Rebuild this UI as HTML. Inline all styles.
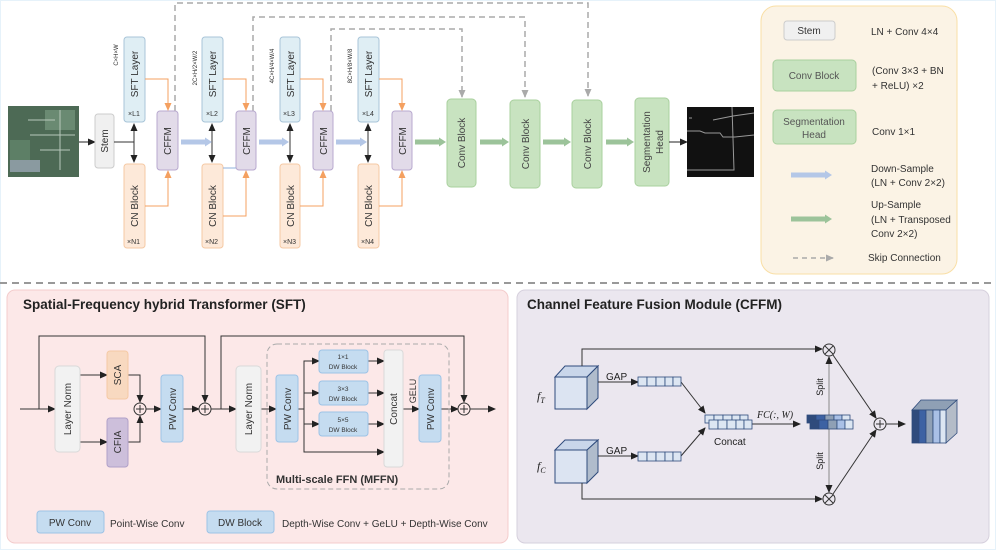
<!DOCTYPE html>
<html><head><meta charset="utf-8"><style>
html,body{margin:0;padding:0;background:#fff;}
svg{display:block;font-family:"Liberation Sans","DejaVu Sans",sans-serif;}
</style></head><body>
<svg width="996" height="550" viewBox="0 0 996 550" xmlns="http://www.w3.org/2000/svg">
<defs>
<marker id="ak" markerWidth="8" markerHeight="8" refX="7" refY="4" orient="auto" markerUnits="userSpaceOnUse"><path d="M0,0.5 L8,4 L0,7.5z" fill="#222"/></marker>
<marker id="aks" markerWidth="8" markerHeight="8" refX="1" refY="4" orient="auto" markerUnits="userSpaceOnUse"><path d="M8,0.5 L0,4 L8,7.5z" fill="#222"/></marker>
<marker id="ao" markerWidth="8" markerHeight="8" refX="7" refY="4" orient="auto" markerUnits="userSpaceOnUse"><path d="M0,0.5 L8,4 L0,7.5z" fill="#f4a060"/></marker>
<marker id="ag" markerWidth="8" markerHeight="8" refX="7" refY="4" orient="auto" markerUnits="userSpaceOnUse"><path d="M0,0.5 L8,4 L0,7.5z" fill="#aaa"/></marker>
<marker id="ab" markerWidth="8" markerHeight="10" refX="1" refY="5" orient="auto" markerUnits="userSpaceOnUse"><path d="M0,0.5 L7,5 L0,9.5z" fill="#b4c7e7"/></marker>
<marker id="agr" markerWidth="8" markerHeight="10" refX="1" refY="5" orient="auto" markerUnits="userSpaceOnUse"><path d="M0,0.5 L7,5 L0,9.5z" fill="#9cc39a"/></marker>
</defs>
<rect x="0.5" y="0.5" width="995" height="549" fill="#fff" stroke="#e6f2fa"/>

<g fill="none" stroke="#aaa" stroke-width="1.5" stroke-dasharray="6,4">
<path d="M175,111 V3 H588 V96" marker-end="url(#ag)"/>
<path d="M253,111 V17 H525 V97" marker-end="url(#ag)"/>
<path d="M331,111 V29 H462 V97" marker-end="url(#ag)"/>
</g>

<rect x="8" y="106" width="71" height="71" fill="#4d6a55"/>
<rect x="10" y="140" width="20" height="30" fill="#5d7f66"/>
<rect x="45" y="110" width="30" height="20" fill="#6a8a72"/>
<rect x="10" y="160" width="30" height="12" fill="#8a9aa0"/>
<path d="M28,120 H55 M30,135 H75 M60,110 V170 M40,150 H70" stroke="#b8c8bb" stroke-width="1"/>
<line x1="79" y1="142" x2="95" y2="142" stroke="#222" marker-end="url(#ak)"/>
<rect x="95" y="114" width="19" height="54" rx="3" fill="#f0f0f0" stroke="#ccc"/>
<text transform="translate(108,141) rotate(-90)" text-anchor="middle" font-size="10" fill="#333">Stem</text>
<line x1="114" y1="142" x2="134" y2="142" stroke="#333"/>

<g font-size="10" fill="#333">
<g>
<rect x="124" y="37" width="21" height="85" rx="3" fill="#dfeef4" stroke="#a8c4d8"/>
<text transform="translate(138,74) rotate(-90)" text-anchor="middle">SFT Layer</text>
<text x="128" y="116" font-size="7">×L1</text>
<rect x="124" y="164" width="21" height="84" rx="3" fill="#fde9d9" stroke="#f5c9a4"/>
<text transform="translate(138,206) rotate(-90)" text-anchor="middle">CN Block</text>
<text x="127" y="244" font-size="7">×N1</text>
<rect x="157" y="111" width="21" height="59" rx="3" fill="#e2dbe9" stroke="#b8a9cf"/>
<text transform="translate(171,141) rotate(-90)" text-anchor="middle">CFFM</text>
<line x1="134" y1="124" x2="134" y2="162" stroke="#333" marker-start="url(#aks)" marker-end="url(#ak)"/>
<path d="M145,79 H168 V110" fill="none" stroke="#f4a060" marker-end="url(#ao)"/>
<path d="M145,206 H168 V171" fill="none" stroke="#f4a060" marker-end="url(#ao)"/>
<text transform="translate(118,55) rotate(-90)" text-anchor="middle" font-size="6">C×H×W</text>
</g>
<g>
<rect x="202" y="37" width="21" height="85" rx="3" fill="#dfeef4" stroke="#a8c4d8"/>
<text transform="translate(216,74) rotate(-90)" text-anchor="middle">SFT Layer</text>
<text x="206" y="116" font-size="7">×L2</text>
<rect x="202" y="164" width="21" height="84" rx="3" fill="#fde9d9" stroke="#f5c9a4"/>
<text transform="translate(216,206) rotate(-90)" text-anchor="middle">CN Block</text>
<text x="205" y="244" font-size="7">×N2</text>
<rect x="236" y="111" width="20" height="59" rx="3" fill="#e2dbe9" stroke="#b8a9cf"/>
<text transform="translate(250,141) rotate(-90)" text-anchor="middle">CFFM</text>
<line x1="212" y1="124" x2="212" y2="162" stroke="#333" marker-start="url(#aks)" marker-end="url(#ak)"/>
<path d="M223,79 H246 V110" fill="none" stroke="#f4a060" marker-end="url(#ao)"/>
<path d="M223,216 H246 V171" fill="none" stroke="#f4a060" marker-end="url(#ao)"/>
<line x1="223" y1="168" x2="236" y2="168" stroke="#8fb0dd"/>
<text transform="translate(197,68) rotate(-90)" text-anchor="middle" font-size="6">2C×H/2×W/2</text>
</g>
<g>
<rect x="280" y="37" width="20" height="85" rx="3" fill="#dfeef4" stroke="#a8c4d8"/>
<text transform="translate(294,74) rotate(-90)" text-anchor="middle">SFT Layer</text>
<text x="283" y="116" font-size="7">×L3</text>
<rect x="280" y="164" width="20" height="84" rx="3" fill="#fde9d9" stroke="#f5c9a4"/>
<text transform="translate(294,206) rotate(-90)" text-anchor="middle">CN Block</text>
<text x="283" y="244" font-size="7">×N3</text>
<rect x="313" y="111" width="20" height="59" rx="3" fill="#e2dbe9" stroke="#b8a9cf"/>
<text transform="translate(327,141) rotate(-90)" text-anchor="middle">CFFM</text>
<line x1="290" y1="124" x2="290" y2="162" stroke="#333" marker-start="url(#aks)" marker-end="url(#ak)"/>
<path d="M300,79 H323 V110" fill="none" stroke="#f4a060" marker-end="url(#ao)"/>
<path d="M300,206 H323 V171" fill="none" stroke="#f4a060" marker-end="url(#ao)"/>
<text transform="translate(274,66) rotate(-90)" text-anchor="middle" font-size="6">4C×H/4×W/4</text>
</g>
<g>
<rect x="358" y="37" width="21" height="85" rx="3" fill="#dfeef4" stroke="#a8c4d8"/>
<text transform="translate(372,74) rotate(-90)" text-anchor="middle">SFT Layer</text>
<text x="362" y="116" font-size="7">×L4</text>
<rect x="358" y="164" width="21" height="84" rx="3" fill="#fde9d9" stroke="#f5c9a4"/>
<text transform="translate(372,206) rotate(-90)" text-anchor="middle">CN Block</text>
<text x="361" y="244" font-size="7">×N4</text>
<rect x="392" y="111" width="20" height="59" rx="3" fill="#e2dbe9" stroke="#b8a9cf"/>
<text transform="translate(406,141) rotate(-90)" text-anchor="middle">CFFM</text>
<line x1="368" y1="124" x2="368" y2="162" stroke="#333" marker-start="url(#aks)" marker-end="url(#ak)"/>
<path d="M379,79 H402 V110" fill="none" stroke="#f4a060" marker-end="url(#ao)"/>
<path d="M379,206 H402 V171" fill="none" stroke="#f4a060" marker-end="url(#ao)"/>
<text transform="translate(352,66) rotate(-90)" text-anchor="middle" font-size="6">8C×H/8×W/8</text>
</g>
</g>
<g stroke="#b4c7e7" stroke-width="5" marker-end="url(#ab)">
<line x1="181" y1="142" x2="206" y2="142"/>
<line x1="259" y1="142" x2="283" y2="142"/>
<line x1="336" y1="142" x2="361" y2="142"/>
</g>
<g stroke="#9cc39a" stroke-width="5" marker-end="url(#agr)">
<line x1="415" y1="142" x2="440" y2="142"/>
<line x1="480" y1="142" x2="503" y2="142"/>
<line x1="543" y1="142" x2="565" y2="142"/>
<line x1="606" y1="142" x2="628" y2="142"/>
</g>
<g font-size="10" fill="#444">
<rect x="447" y="99" width="29" height="88" rx="4" fill="#c8e3c0" stroke="#a9d09e"/>
<text transform="translate(465,143) rotate(-90)" text-anchor="middle">Conv Block</text>
<rect x="510" y="100" width="30" height="88" rx="4" fill="#c8e3c0" stroke="#a9d09e"/>
<text transform="translate(529,144) rotate(-90)" text-anchor="middle">Conv Block</text>
<rect x="572" y="100" width="30" height="88" rx="4" fill="#c8e3c0" stroke="#a9d09e"/>
<text transform="translate(591,144) rotate(-90)" text-anchor="middle">Conv Block</text>
<rect x="635" y="98" width="34" height="88" rx="4" fill="#c8e3c0" stroke="#a9d09e"/>
<text transform="translate(650,142) rotate(-90)" text-anchor="middle">Segmentation</text>
<text transform="translate(663,142) rotate(-90)" text-anchor="middle">Head</text>
</g>
<line x1="669" y1="142" x2="687" y2="142" stroke="#222" marker-end="url(#ak)"/>
<rect x="687" y="107" width="67" height="70" fill="#111"/>
<path d="M687,131 H700 L705,133 H720 L723,137 H735 L754,135 M732,107 L734,170 H687 M713,120 L733,116 L754,113 M689,118 H692" fill="none" stroke="#999" stroke-width="1"/>

<rect x="761" y="6" width="196" height="268" rx="15" fill="#fbf3e5" stroke="#f9dfa6"/>
<g font-size="10" fill="#333">
<rect x="784" y="21" width="51" height="19" rx="3" fill="#f0f0f0" stroke="#ccc"/>
<text x="809" y="34" text-anchor="middle">Stem</text>
<text x="871" y="35">LN + Conv 4×4</text>
<rect x="773" y="60" width="83" height="31" rx="4" fill="#c8e3c0" stroke="#a9d09e"/>
<text x="814" y="79" text-anchor="middle" fill="#555">Conv Block</text>
<text x="872" y="74">(Conv 3×3 + BN</text>
<text x="872" y="89">+ ReLU) ×2</text>
<rect x="773" y="110" width="83" height="34" rx="4" fill="#c8e3c0" stroke="#a9d09e"/>
<text x="814" y="125" text-anchor="middle" fill="#555">Segmentation</text>
<text x="814" y="138" text-anchor="middle" fill="#555">Head</text>
<text x="872" y="135">Conv 1×1</text>
<line x1="791" y1="175" x2="826" y2="175" stroke="#b4c7e7" stroke-width="5" marker-end="url(#ab)"/>
<text x="871" y="172">Down-Sample</text>
<text x="871" y="186">(LN + Conv 2×2)</text>
<line x1="791" y1="219" x2="826" y2="219" stroke="#9cc39a" stroke-width="5" marker-end="url(#agr)"/>
<text x="871" y="208">Up-Sample</text>
<text x="871" y="223">(LN + Transposed</text>
<text x="871" y="237">Conv 2×2)</text>
<line x1="793" y1="258" x2="833" y2="258" stroke="#aaa" stroke-width="1.5" stroke-dasharray="5,4" marker-end="url(#ag)"/>
<text x="868" y="261">Skip Connection</text>
</g>
<line x1="0" y1="283" x2="996" y2="283" stroke="#999" stroke-width="2" stroke-dasharray="7,5"/>

<rect x="7" y="290" width="501" height="253" rx="8" fill="#fce8e8" stroke="#f4cccc"/>
<text x="23" y="309" font-size="13.5" font-weight="bold" fill="#222">Spatial-Frequency hybrid Transformer (SFT)</text>
<g stroke="#333" fill="none">
<line x1="20" y1="409" x2="55" y2="409" marker-end="url(#ak)"/>
<path d="M39,409 V336 H205 V402" marker-end="url(#ak)"/>
<line x1="80" y1="375" x2="107" y2="375" marker-end="url(#ak)"/>
<line x1="80" y1="442" x2="107" y2="442" marker-end="url(#ak)"/>
<path d="M128,375 H140 V402" marker-end="url(#ak)"/>
<path d="M128,442 H140 V416" marker-end="url(#ak)"/>
<line x1="146" y1="409" x2="161" y2="409" marker-end="url(#ak)"/>
<line x1="183" y1="409" x2="199" y2="409" marker-end="url(#ak)"/>
<line x1="211" y1="409" x2="236" y2="409" marker-end="url(#ak)"/>
<path d="M221,409 V336 H464 V402" marker-end="url(#ak)"/>
<line x1="261" y1="409" x2="276" y2="409" marker-end="url(#ak)"/>
<path d="M298,409 H304 V361 H319" marker-end="url(#ak)"/>
<line x1="304" y1="393" x2="319" y2="393" marker-end="url(#ak)"/>
<path d="M304,409 V452 H384" marker-end="url(#ak)"/>
<line x1="304" y1="424" x2="319" y2="424" marker-end="url(#ak)"/>
<line x1="368" y1="361" x2="384" y2="361" marker-end="url(#ak)"/>
<line x1="368" y1="393" x2="384" y2="393" marker-end="url(#ak)"/>
<line x1="368" y1="424" x2="384" y2="424" marker-end="url(#ak)"/>
<line x1="403" y1="409" x2="419" y2="409" marker-end="url(#ak)"/>
<line x1="441" y1="409" x2="458" y2="409" marker-end="url(#ak)"/>
<line x1="470" y1="409" x2="495" y2="409" marker-end="url(#ak)"/>
<circle cx="140" cy="409" r="6" fill="#fce8e8"/>
<circle cx="205" cy="409" r="6" fill="#fce8e8"/>
<circle cx="464" cy="409" r="6" fill="#fce8e8"/>
<path d="M136,409 H144 M140,405 V413 M201,409 H209 M205,405 V413 M460,409 H468 M464,405 V413"/>
</g>
<rect x="267" y="344" width="182" height="145" rx="10" fill="none" stroke="#aaa" stroke-dasharray="5,3"/>
<g font-size="10" fill="#333">
<rect x="55" y="366" width="25" height="86" rx="4" fill="#f2f2f2" stroke="#d9d9d9"/>
<text transform="translate(71,409) rotate(-90)" text-anchor="middle">Layer Norm</text>
<rect x="107" y="351" width="21" height="48" rx="3" fill="#f8d9c0" stroke="#f5c9a4"/>
<text transform="translate(121,375) rotate(-90)" text-anchor="middle">SCA</text>
<rect x="107" y="418" width="21" height="49" rx="3" fill="#cdbfdb" stroke="#b0a0c8"/>
<text transform="translate(121,442) rotate(-90)" text-anchor="middle">CFIA</text>
<rect x="161" y="375" width="22" height="67" rx="3" fill="#c5dcf0" stroke="#9dc3e6"/>
<text transform="translate(176,409) rotate(-90)" text-anchor="middle">PW Conv</text>
<rect x="236" y="366" width="25" height="86" rx="4" fill="#f2f2f2" stroke="#d9d9d9"/>
<text transform="translate(252,409) rotate(-90)" text-anchor="middle">Layer Norm</text>
<rect x="276" y="375" width="22" height="67" rx="3" fill="#c5dcf0" stroke="#9dc3e6"/>
<text transform="translate(291,409) rotate(-90)" text-anchor="middle">PW Conv</text>
<rect x="319" y="350" width="49" height="23" rx="3" fill="#c5dcf0" stroke="#9dc3e6"/>
<text x="343" y="359" text-anchor="middle" font-size="6.5">1×1</text>
<text x="343" y="369" text-anchor="middle" font-size="6.5">DW Block</text>
<rect x="319" y="381" width="49" height="24" rx="3" fill="#c5dcf0" stroke="#9dc3e6"/>
<text x="343" y="391" text-anchor="middle" font-size="6.5">3×3</text>
<text x="343" y="401" text-anchor="middle" font-size="6.5">DW Block</text>
<rect x="319" y="412" width="49" height="24" rx="3" fill="#c5dcf0" stroke="#9dc3e6"/>
<text x="343" y="422" text-anchor="middle" font-size="6.5">5×5</text>
<text x="343" y="432" text-anchor="middle" font-size="6.5">DW Block</text>
<rect x="384" y="350" width="19" height="117" rx="3" fill="#f2f2f2" stroke="#d9d9d9"/>
<text transform="translate(397,409) rotate(-90)" text-anchor="middle">Concat</text>
<text transform="translate(416,391) rotate(-90)" text-anchor="middle" font-size="9">GELU</text>
<rect x="419" y="375" width="22" height="67" rx="3" fill="#c5dcf0" stroke="#9dc3e6"/>
<text transform="translate(434,409) rotate(-90)" text-anchor="middle">PW Conv</text>
<text x="276" y="483" font-size="11" font-weight="bold" fill="#333">Multi-scale FFN (MFFN)</text>
<rect x="37" y="511" width="67" height="22" rx="3" fill="#c5dcf0" stroke="#9dc3e6"/>
<text x="70" y="526" text-anchor="middle">PW Conv</text>
<text x="110" y="527">Point-Wise Conv</text>
<rect x="207" y="511" width="67" height="22" rx="3" fill="#c5dcf0" stroke="#9dc3e6"/>
<text x="240" y="526" text-anchor="middle">DW Block</text>
<text x="282" y="527">Depth-Wise Conv + GeLU + Depth-Wise Conv</text>
</g>

<rect x="517" y="290" width="472" height="253" rx="8" fill="#ebe7ef" stroke="#d6d0dd"/>
<text x="527" y="309" font-size="13.5" font-weight="bold" fill="#222">Channel Feature Fusion Module (CFFM)</text>
<g stroke="#2f4b7c" stroke-width="1">
<path d="M555,377 L565,366 H598 L587,377z" fill="#c9d6ea"/>
<path d="M587,377 L598,366 V398 L587,409z" fill="#b0bccc"/>
<rect x="555" y="377" width="32" height="32" fill="#dce4f2"/>
<path d="M555,450 L565,440 H598 L587,450z" fill="#c9d6ea"/>
<path d="M587,450 L598,440 V472 L587,483z" fill="#b0bccc"/>
<rect x="555" y="450" width="32" height="33" fill="#dce4f2"/>
</g>
<g font-size="10" fill="#222">
<text x="537" y="400" font-style="italic" font-family="Liberation Serif,serif" font-size="12">f<tspan font-size="8" dy="3">T</tspan></text>
<text x="537" y="470" font-style="italic" font-family="Liberation Serif,serif" font-size="12">f<tspan font-size="8" dy="3">C</tspan></text>
<text x="606" y="380">GAP</text>
<text x="606" y="454">GAP</text>
<text x="714" y="445">Concat</text>
<text x="757" y="418" font-style="italic" font-family="Liberation Serif,serif" font-size="10">FC(:, W)</text>
<text transform="translate(823,387) rotate(-90)" text-anchor="middle" font-size="9">Split</text>
<text transform="translate(823,461) rotate(-90)" text-anchor="middle" font-size="9">Split</text>
</g>
<g stroke="#333" fill="none">
<path d="M582,366 V349 H822" marker-end="url(#ak)"/>
<path d="M582,483 V499 H822" marker-end="url(#ak)"/>
<line x1="598" y1="382" x2="638" y2="382" marker-end="url(#ak)"/>
<line x1="598" y1="456" x2="638" y2="456" marker-end="url(#ak)"/>
<line x1="681" y1="382" x2="705" y2="413" marker-end="url(#ak)"/>
<line x1="681" y1="456" x2="705" y2="428" marker-end="url(#ak)"/>
<line x1="752" y1="424" x2="800" y2="424" marker-end="url(#ak)"/>
<line x1="829" y1="424" x2="829" y2="357" stroke="#888" marker-end="url(#ak)"/>
<line x1="829" y1="424" x2="829" y2="492" stroke="#888" marker-end="url(#ak)"/>
<line x1="833" y1="355" x2="876" y2="418" marker-end="url(#ak)"/>
<line x1="833" y1="494" x2="876" y2="430" marker-end="url(#ak)"/>
<line x1="886" y1="424" x2="905" y2="424" marker-end="url(#ak)"/>
<circle cx="829" cy="350" r="6" fill="#ebe7ef"/>
<circle cx="829" cy="499" r="6" fill="#ebe7ef"/>
<circle cx="880" cy="424" r="6" fill="#ebe7ef"/>
<path d="M825,346 L833,354 M833,346 L825,354 M825,495 L833,503 M833,495 L825,503 M876,424 H884 M880,420 V428"/>
</g>
<g stroke="#2f4b7c" stroke-width="0.8" fill="#dce6f2">
<rect x="638" y="377" width="9" height="9"/><rect x="647" y="377" width="9" height="9"/><rect x="656" y="377" width="9" height="9"/><rect x="665" y="377" width="8" height="9"/><rect x="673" y="377" width="8" height="9"/>
<rect x="638" y="452" width="9" height="9"/><rect x="647" y="452" width="9" height="9"/><rect x="656" y="452" width="9" height="9"/><rect x="665" y="452" width="8" height="9"/><rect x="673" y="452" width="8" height="9"/>
<rect x="705" y="415" width="9" height="8"/><rect x="714" y="415" width="9" height="8"/><rect x="723" y="415" width="9" height="8"/><rect x="732" y="415" width="8" height="8"/><rect x="740" y="415" width="8" height="8"/>
<rect x="709" y="420" width="9" height="9"/><rect x="718" y="420" width="9" height="9"/><rect x="727" y="420" width="9" height="9"/><rect x="736" y="420" width="8" height="9"/><rect x="744" y="420" width="8" height="9"/>
<rect x="807" y="415" width="9" height="8" fill="#2f4b7c"/><rect x="816" y="415" width="9" height="8" fill="#3d62a3"/><rect x="825" y="415" width="9" height="8" fill="#8fa0b5"/><rect x="834" y="415" width="8" height="8" fill="#a9c0e6"/><rect x="842" y="415" width="8" height="8" fill="#dce6f2"/>
<rect x="810" y="420" width="9" height="9" fill="#2f4b7c"/><rect x="819" y="420" width="9" height="9" fill="#3d62a3"/><rect x="828" y="420" width="9" height="9" fill="#8fa0b5"/><rect x="837" y="420" width="8" height="9" fill="#a9c0e6"/><rect x="845" y="420" width="8" height="9" fill="#dce6f2"/>
</g>
<g stroke="#2f4b7c" stroke-width="0.8">
<path d="M912,410 L921,400 H957 L946,410z" fill="#8fa0b5"/>
<path d="M946,410 L957,400 V433 L946,443z" fill="#b4bcc8"/>
<rect x="912" y="410" width="7" height="33" fill="#2f4b7c"/>
<rect x="919" y="410" width="7" height="33" fill="#3d62a3"/>
<rect x="926" y="410" width="7" height="33" fill="#8fa0b5"/>
<rect x="933" y="410" width="7" height="33" fill="#a9c0e6"/>
<rect x="940" y="410" width="6" height="33" fill="#dce6f2"/>
</g>
</svg>
</body></html>
